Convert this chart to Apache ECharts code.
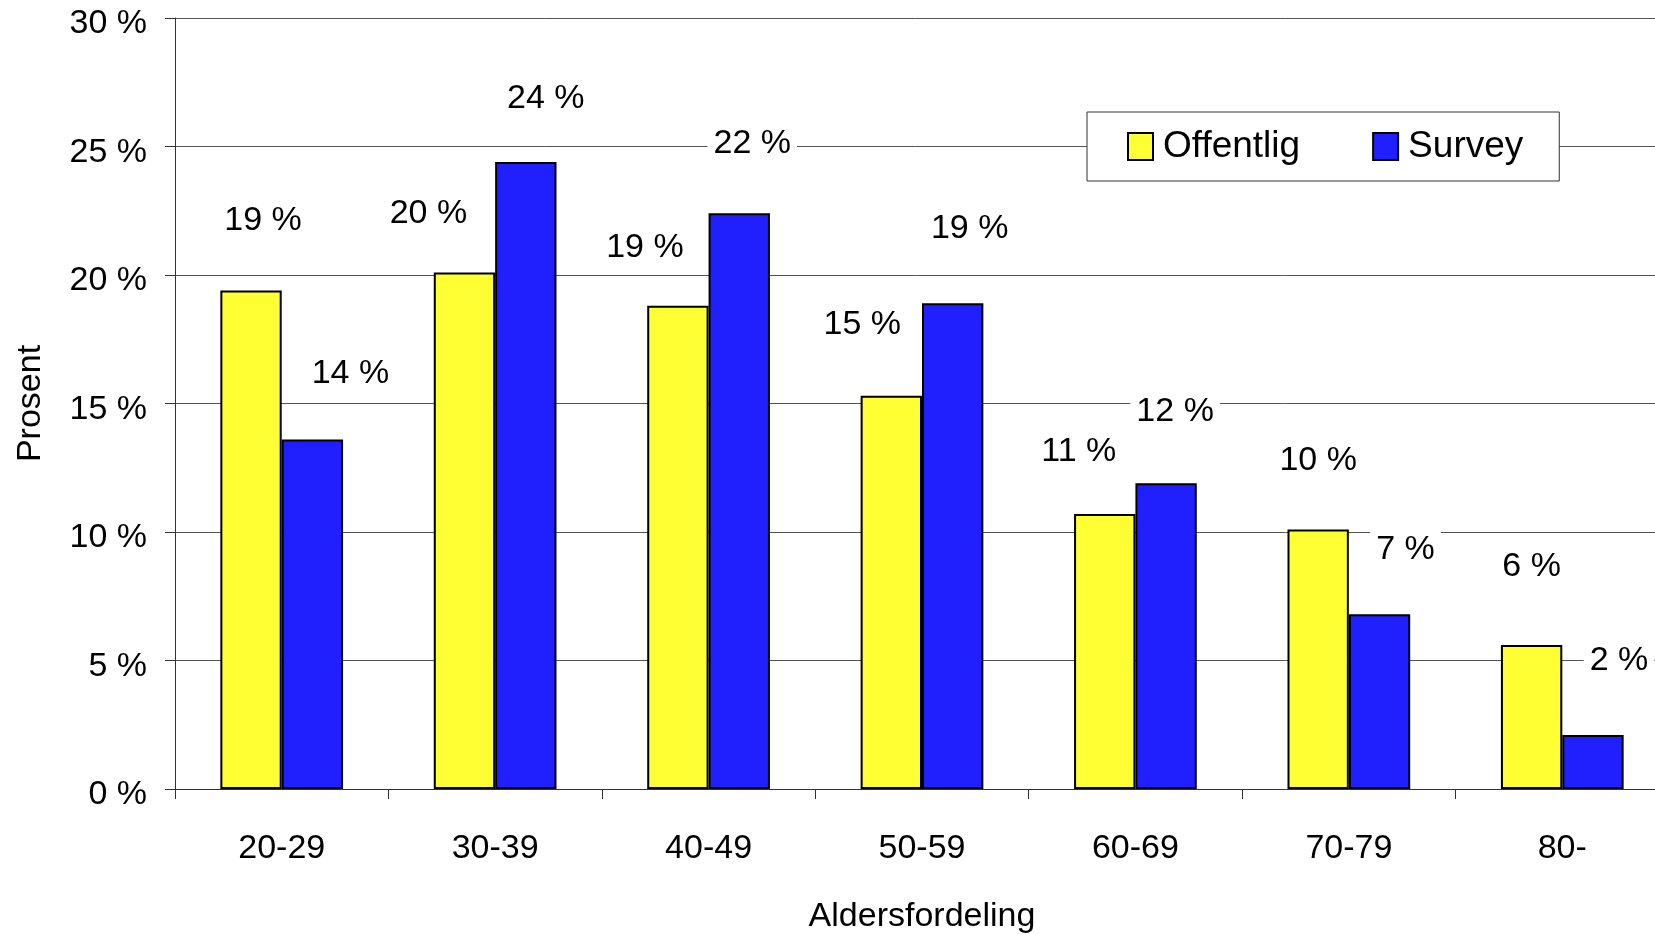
<!DOCTYPE html>
<html>
<head>
<meta charset="utf-8">
<script src="https://cdn.jsdelivr.net/npm/echarts@6/dist/echarts.min.js"></script>
<style>
  html, body { margin: 0; padding: 0; background: #fff; }
  #chart { width: 1655px; height: 934px; }
</style>
</head>
<body>
<div id="chart"></div>
<script>
// Age groups and shares (percent) for the two sources
const categories = ['20-29', '30-39', '40-49', '50-59', '60-69', '70-79', '80-'];
const offentlig = [19.4, 20.1, 18.8, 15.3, 10.7, 10.1, 5.6];
const survey = [13.6, 24.4, 22.4, 18.9, 11.9, 6.8, 2.1];
const seriesNames = ['Offentlig', 'Survey'];

// Hand-placed nudges for the value labels [dx, dy] in pixels
const offentligLabelNudge = [[12, -2], [-36, 9], [-33, 10], [-29, -3], [-26, 6], [0, -1], [0, -10]];
const surveyLabelNudge = [[38, 2], [20, 5], [13, -2], [17, -7], [9, -4], [26, 3], [26, -6]];

const FONT = "'Liberation Sans', Arial, sans-serif";

function withLabels(values, nudges) {
  return values.map((v, i) => ({ value: v, label: { offset: nudges[i] } }));
}

const valueLabel = {
  show: true,
  position: 'top',
  distance: 49,
  formatter: p => Math.round(p.value) + ' %',
  color: '#000',
  fontFamily: FONT,
  fontSize: 34,
  lineHeight: 34,
  backgroundColor: '#fff',
  padding: [2, 6, 2, 6]
};

const chart = echarts.init(document.getElementById('chart'), null, { renderer: 'canvas' });
chart.setOption({
  animation: false,
  backgroundColor: '#fff',
  textStyle: { fontFamily: FONT },
  // the plot runs slightly past the right edge of the canvas
  grid: { left: 175, top: 18, width: 1494, bottom: 145, containLabel: false, outerBoundsMode: 'none' },
  legend: {
    data: seriesNames,
    icon: 'rect',
    left: 1087,
    top: 112,
    orient: 'horizontal',
    padding: [12, 36, 12, 40],
    itemGap: 72,
    itemWidth: 25,
    itemHeight: 27,
    backgroundColor: '#fff',
    borderColor: '#333',
    borderWidth: 1,
    borderRadius: 0,
    itemStyle: { borderColor: '#000', borderWidth: 2 },
    textStyle: { fontFamily: FONT, fontSize: 37, lineHeight: 37, color: '#000', padding: [8, 0, 0, 5] }
  },
  xAxis: {
    type: 'category',
    data: categories,
    name: 'Aldersfordeling',
    nameLocation: 'middle',
    nameGap: 111,
    nameTextStyle: { fontFamily: FONT, fontSize: 34, color: '#000' },
    axisLine: { show: true, lineStyle: { color: '#333', width: 1 } },
    axisTick: { show: true, length: 10, inside: false, lineStyle: { color: '#333' } },
    axisLabel: { margin: 43, fontFamily: FONT, fontSize: 34, color: '#000' },
    splitLine: { show: false }
  },
  yAxis: {
    type: 'value',
    min: 0,
    max: 30,
    interval: 5,
    name: 'Prosent',
    nameLocation: 'middle',
    nameRotate: 90,
    nameGap: 127,
    nameTextStyle: { fontFamily: FONT, fontSize: 34, color: '#000' },
    axisLine: { show: true, lineStyle: { color: '#333', width: 1 } },
    axisTick: { show: true, length: 10, inside: false, lineStyle: { color: '#333' } },
    axisLabel: {
      margin: 28,
      fontFamily: FONT,
      fontSize: 34,
      color: '#000',
      verticalAlign: 'top',
      lineHeight: 12,
      formatter: v => v + ' %'
    },
    splitLine: { show: true, lineStyle: { color: '#555', width: 1 } }
  },
  series: [
    {
      name: seriesNames[0],
      type: 'bar',
      data: withLabels(offentlig, offentligLabelNudge),
      barGap: '0%',
      barCategoryGap: '42.5%',
      itemStyle: { color: '#FFFF33', borderColor: '#000', borderWidth: 2 },
      label: valueLabel
    },
    {
      name: seriesNames[1],
      type: 'bar',
      data: withLabels(survey, surveyLabelNudge),
      barGap: '0%',
      barCategoryGap: '42.5%',
      itemStyle: { color: '#2020FF', borderColor: '#000', borderWidth: 2 },
      label: valueLabel
    }
  ]
});
</script>
</body>
</html>
